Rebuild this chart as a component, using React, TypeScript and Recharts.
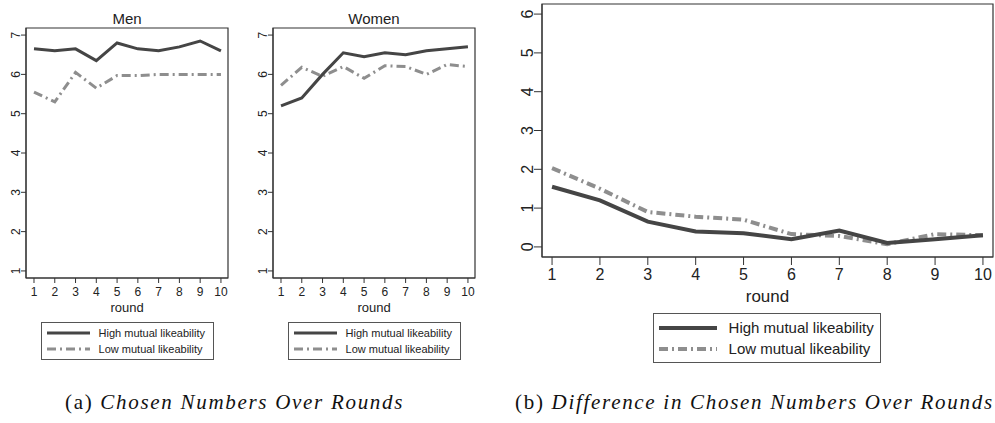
import React from "react";
import {
  LineChart,
  Line,
  XAxis,
  YAxis,
  ReferenceArea,
} from "recharts";

// rounds 1..10
const rounds = [1, 2, 3, 4, 5, 6, 7, 8, 9, 10];

// (a) chosen numbers, men
const menHigh = [6.65, 6.6, 6.65, 6.35, 6.8, 6.65, 6.6, 6.7, 6.85, 6.6];
const menLow = [5.55, 5.3, 6.05, 5.65, 5.97, 5.97, 6.0, 6.0, 6.0, 6.0];

// (a) chosen numbers, women
const womenHigh = [5.2, 5.4, 6.0, 6.55, 6.45, 6.55, 6.5, 6.6, 6.65, 6.7];
const womenLow = [5.72, 6.18, 5.95, 6.2, 5.9, 6.22, 6.2, 6.0, 6.25, 6.2];

// (b) difference in chosen numbers
const diffHigh = [1.55, 1.2, 0.65, 0.4, 0.35, 0.2, 0.42, 0.1, 0.2, 0.3];
const diffLow = [2.03, 1.5, 0.9, 0.78, 0.7, 0.33, 0.28, 0.07, 0.33, 0.3];

const leftYTicks = [1, 2, 3, 4, 5, 6, 7];
const rightYTicks = [0, 1, 2, 3, 4, 5, 6];

const seriesNames = ["High mutual likeability", "Low mutual likeability"];

const HIGH_COLOR = "#454545";
const LOW_COLOR = "#8e8e8e";
const DASH = "9 4 2 4";
const FONT = "'Liberation Sans', Arial, sans-serif";

const toRows = (high: number[], low: number[]) =>
  rounds.map((r, i) => ({ round: r, high: high[i], low: low[i] }));

const RotatedTick = (props: any) => {
  const { x, y, payload, fontSize } = props;
  return (
    <text
      x={x}
      y={y}
      transform={`rotate(-90 ${x} ${y})`}
      textAnchor="middle"
      fontSize={fontSize}
      fontFamily={FONT}
      fill="#222"
    >
      {payload.value}
    </text>
  );
};

interface PanelProps {
  data: { round: number; high: number; low: number }[];
  width: number;
  height: number;
  margin: { top: number; right: number; bottom: number; left: number };
  yWidth: number;
  xHeight: number;
  xDomain: [number, number];
  yDomain: [number, number];
  yTicks: number[];
  tickFont: number;
  labelFont: number;
  tickSize: number;
  lineWidth: number;
}

const Panel = ({
  data,
  width,
  height,
  margin,
  yWidth,
  xHeight,
  xDomain,
  yDomain,
  yTicks,
  tickFont,
  labelFont,
  tickSize,
  lineWidth,
}: PanelProps) => (
  <LineChart width={width} height={height} data={data} margin={margin}>
    <ReferenceArea
      x1={xDomain[0]}
      x2={xDomain[1]}
      y1={yDomain[0]}
      y2={yDomain[1]}
      fill="none"
      stroke="#333"
      strokeWidth={1.2}
      ifOverflow="visible"
    />
    <XAxis
      dataKey="round"
      type="number"
      domain={xDomain}
      ticks={rounds}
      allowDataOverflow
      height={xHeight}
      tickSize={tickSize}
      tickMargin={4}
      stroke="#333"
      tick={{ fontSize: tickFont, fill: "#222", fontFamily: FONT }}
      label={{
        value: "round",
        position: "insideBottom",
        offset: 8,
        fontSize: labelFont,
        fill: "#222",
        fontFamily: FONT,
      }}
    />
    <YAxis
      type="number"
      domain={yDomain}
      ticks={yTicks}
      allowDataOverflow
      width={yWidth}
      tickSize={tickSize}
      tickMargin={1}
      stroke="#333"
      tick={(p: any) => <RotatedTick {...p} fontSize={tickFont} />}
    />
    <Line
      dataKey="low"
      stroke={LOW_COLOR}
      strokeWidth={lineWidth}
      strokeDasharray={DASH}
      dot={false}
      type="linear"
      isAnimationActive={false}
    />
    <Line
      dataKey="high"
      stroke={HIGH_COLOR}
      strokeWidth={lineWidth}
      dot={false}
      type="linear"
      isAnimationActive={false}
    />
  </LineChart>
);

interface LegendBoxProps {
  left: number;
  top: number;
  width: number;
  height: number;
  sample: number;
  fontSize: number;
  rowGap: number;
  lineWidth: number;
}

const LegendBox = ({
  left,
  top,
  width,
  height,
  sample,
  fontSize,
  rowGap,
  lineWidth,
}: LegendBoxProps) => (
  <div
    style={{
      position: "absolute",
      left,
      top,
      width,
      height,
      boxSizing: "border-box",
      border: "1px solid #555",
      display: "flex",
      flexDirection: "column",
      justifyContent: "center",
      gap: rowGap,
      paddingLeft: 5,
      fontFamily: FONT,
      fontSize,
      color: "#222",
    }}
  >
    {seriesNames.map((name, i) => (
      <div
        key={name}
        style={{ display: "flex", alignItems: "center", lineHeight: 1 }}
      >
        <svg width={sample} height={8} style={{ marginRight: sample / 5 }}>
          <line
            x1={0}
            x2={sample}
            y1={4}
            y2={4}
            stroke={i === 0 ? HIGH_COLOR : LOW_COLOR}
            strokeWidth={lineWidth}
            strokeDasharray={i === 0 ? undefined : DASH}
          />
        </svg>
        <span>{name}</span>
      </div>
    ))}
  </div>
);

const titleStyle: React.CSSProperties = {
  position: "absolute",
  top: 10,
  fontFamily: FONT,
  fontSize: 15,
  lineHeight: "18px",
  textAlign: "center",
  color: "#222",
};

const captionStyle: React.CSSProperties = {
  position: "absolute",
  top: 392,
  fontFamily: "'Liberation Serif', 'Times New Roman', serif",
  fontSize: 21,
  letterSpacing: 1.7,
  lineHeight: 1,
  color: "#111",
  whiteSpace: "nowrap",
};

export default function App() {
  const leftMargin = { top: 28, right: 12, bottom: 0, left: 0 };
  return (
    <div
      style={{
        position: "absolute",
        left: 0,
        top: 0,
        width: 995,
        height: 423,
        background: "#fff",
        overflow: "hidden",
      }}
    >
      <div style={{ ...titleStyle, left: 26, width: 202 }}>Men</div>
      <div style={{ ...titleStyle, left: 273, width: 202 }}>Women</div>

      <div style={{ position: "absolute", left: 0, top: 0 }}>
        <Panel
          data={toRows(menHigh, menLow)}
          width={240}
          height={320}
          margin={leftMargin}
          yWidth={26}
          xHeight={42}
          xDomain={[0.615, 10.34]}
          yDomain={[0.82, 7.18]}
          yTicks={leftYTicks}
          tickFont={12}
          labelFont={13}
          tickSize={5}
          lineWidth={3}
        />
      </div>
      <div style={{ position: "absolute", left: 247, top: 0 }}>
        <Panel
          data={toRows(womenHigh, womenLow)}
          width={240}
          height={320}
          margin={leftMargin}
          yWidth={26}
          xHeight={42}
          xDomain={[0.615, 10.34]}
          yDomain={[0.82, 7.18]}
          yTicks={leftYTicks}
          tickFont={12}
          labelFont={13}
          tickSize={5}
          lineWidth={3}
        />
      </div>
      <div style={{ position: "absolute", left: 500, top: 0 }}>
        <Panel
          data={toRows(diffHigh, diffLow)}
          width={495}
          height={310}
          margin={{ top: 4, right: 2, bottom: 0, left: 0 }}
          yWidth={42}
          xHeight={53}
          xDomain={[0.79, 10.21]}
          yDomain={[-0.26, 6.26]}
          yTicks={rightYTicks}
          tickFont={16}
          labelFont={17}
          tickSize={8}
          lineWidth={4}
        />
      </div>

      <LegendBox
        left={41}
        top={322}
        width={173}
        height={38}
        sample={43}
        fontSize={11}
        rowGap={5}
        lineWidth={3}
      />
      <LegendBox
        left={288}
        top={322}
        width={173}
        height={38}
        sample={43}
        fontSize={11}
        rowGap={5}
        lineWidth={3}
      />
      <LegendBox
        left={653}
        top={313}
        width={228}
        height={50}
        sample={58}
        fontSize={15}
        rowGap={6}
        lineWidth={4}
      />

      <div style={{ ...captionStyle, left: 65 }}>
        (a) <i>Chosen Numbers Over Rounds</i>
      </div>
      <div style={{ ...captionStyle, left: 515 }}>
        (b) <i>Difference in Chosen Numbers Over Rounds</i>
      </div>
    </div>
  );
}
